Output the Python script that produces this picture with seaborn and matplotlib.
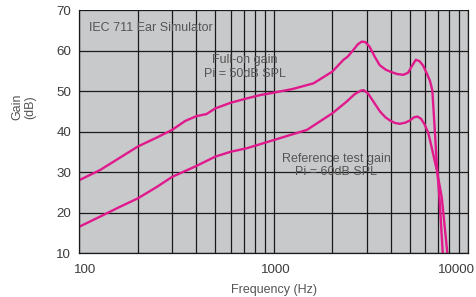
import matplotlib
matplotlib.use("Agg")
import matplotlib.pyplot as plt
import matplotlib.ticker as mticker
import matplotlib.transforms as mtransforms
import seaborn as sns
import pandas as pd

# Full-on gain, Pi = 50 dB SPL
full_on_freq = [100, 128, 160, 200, 250, 300, 350, 400, 450, 500, 600, 730, 850,
                1000, 1250, 1600, 2000, 2280, 2400, 2550, 2700, 2830, 2950, 3100,
                3300, 3500, 3750, 3960, 4300, 4630, 4900, 5100, 5370, 5600, 5850,
                6110, 6350, 6530, 6690, 6880, 7100, 7390]
full_on_gain = [28.0, 30.5, 33.4, 36.3, 38.5, 40.4, 42.6, 43.8, 44.3, 45.7, 47.1, 48.2, 49.0,
                49.6, 50.5, 51.9, 54.8, 57.7, 58.5, 60.0, 61.5, 62.2, 62.1, 61.0,
                58.5, 56.4, 55.3, 54.8, 54.2, 54.0, 54.5, 56.0, 57.7, 57.4, 56.3,
                54.4, 52.5, 50.2, 42.1, 32.2, 23.8, 10.0]

# Reference test gain, Pi = 60 dB SPL
ref_freq = [100, 128, 160, 200, 250, 300, 400, 500, 600, 730, 1000, 1480, 2000,
            2370, 2600, 2800, 2900, 3050, 3250, 3520, 3750, 3960, 4200, 4450,
            4750, 5000, 5250, 5470, 5700, 5950, 6230, 6530, 6880, 7300, 7590, 7800]
ref_gain = [16.5, 19.0, 21.3, 23.5, 26.3, 28.8, 31.5, 33.8, 35.0, 35.9, 37.9, 40.4, 44.5,
            47.4, 49.2, 50.1, 50.2, 49.4, 47.4, 44.9, 43.5, 42.7, 42.1, 41.9,
            42.2, 42.7, 43.5, 43.7, 43.2, 41.8, 39.6, 35.4, 30.5, 23.8, 15.7, 10.0]

x_ticks = [100, 1000, 10000]
x_tick_labels = ["100", "1000", "10000"]

df = pd.concat([
    pd.DataFrame({"freq": full_on_freq, "gain": full_on_gain, "curve": "full"}),
    pd.DataFrame({"freq": ref_freq, "gain": ref_gain, "curve": "ref"}),
])

sns.set_style("white")
plt.rcParams["font.family"] = ["Liberation Sans", "DejaVu Sans"]

text_grey = "#555555"
magenta = "#e0198c"

fig = plt.figure(figsize=(4.77, 2.97), dpi=100)
ax = fig.add_axes([0.1663, 0.1481, 0.8155, 0.8182])
ax.set_facecolor("#c8c9cb")

sns.lineplot(data=df, x="freq", y="gain", units="curve", estimator=None,
             sort=False, color=magenta, linewidth=1.7, ax=ax)

ax.set_xscale("log")
ax.set_xlim(100, 10000)
ax.set_ylim(10, 70)
ax.set_yticks(range(10, 71, 10))
ax.xaxis.set_major_locator(mticker.FixedLocator(x_ticks))
ax.xaxis.set_major_formatter(mticker.FixedFormatter(x_tick_labels))
ax.xaxis.set_minor_locator(mticker.LogLocator(base=10, subs=range(2, 10)))
ax.xaxis.set_minor_formatter(mticker.NullFormatter())

ax.grid(True, which="both", axis="x", color="#1a1a1a", linewidth=0.9)
ax.grid(True, which="major", axis="y", color="#1a1a1a", linewidth=0.9)
ax.set_axisbelow(True)
ax.tick_params(which="both", length=0, labelsize=9.6, colors="#3c3c3c")
ax.tick_params(axis="x", pad=8)
ax.tick_params(axis="y", pad=6)

# nudge the x tick labels like the original layout
shifts = [6, 1.5, -12]
for lab, dx in zip(ax.get_xticklabels(), shifts):
    lab.set_transform(lab.get_transform() +
                      mtransforms.ScaledTranslation(dx / 100, 0, fig.dpi_scale_trans))

for side in ["left", "bottom", "right"]:
    ax.spines[side].set_color("#1a1a1a")
    ax.spines[side].set_linewidth(0.9)
ax.spines["top"].set_visible(False)

ax.set_xlabel("Frequency (Hz)", fontsize=9, color=text_grey, labelpad=6)
ax.set_ylabel("Gain\n(dB)", fontsize=9, color=text_grey, linespacing=1.1, va="center")
ax.yaxis.set_label_coords(-0.143, 0.60)

ax.text(112, 65.6, "IEC 711 Ear Simulator", fontsize=9, color=text_grey,
        ha="left", va="center")
ax.text(711, 56.0, "Full-on gain\nPi = 50dB SPL", fontsize=9, color=text_grey,
        ha="center", va="center", linespacing=1.2)
ax.text(2089, 31.6, "Reference test gain\nPi = 60dB SPL", fontsize=9, color=text_grey,
        ha="center", va="center", linespacing=1.2)

fig.savefig("out.png", dpi=100)
